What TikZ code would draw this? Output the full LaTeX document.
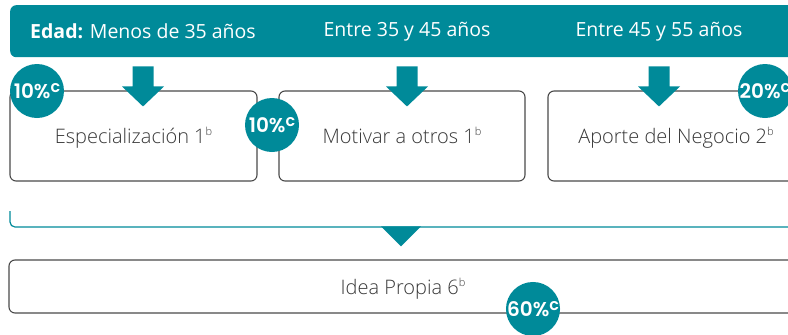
\documentclass[tikz,border=0pt]{standalone}
\usepackage{fontspec}
\usetikzlibrary{calc}
\IfFontExistsTF{Open Sans Light}{\newfontfamily\lightfont{Open Sans Light}}{\newfontfamily\lightfont{Open Sans}}
\newfontfamily\hdrfont{Open Sans}
\IfFontExistsTF{Poppins SemiBold}{\newfontfamily\pctfont{Poppins SemiBold}}{\newfontfamily\pctfont{Poppins}}
\definecolor{tealc}{HTML}{008A99}
\definecolor{textgray}{HTML}{383838}
\definecolor{bordergray}{HTML}{4A4A4A}
\newcommand\boxsup[1]{\raisebox{0.75ex}{\fontsize{11}{11}\selectfont #1}}
\newcommand\pcsup[1]{\raisebox{0.5ex}{\fontsize{16}{16}\selectfont #1}}
\begin{document}
\begin{tikzpicture}[x=1pt,y=-1pt,
  box/.style={draw=bordergray, line width=1.1pt, rounded corners=6pt, minimum height=90pt, inner sep=0pt, text height=15.5pt, text depth=0pt, font=\lightfont\fontsize{20}{24}\selectfont, text=textgray},
  pct/.style={circle, fill=tealc, minimum size=54pt, inner sep=0pt, text=white, font=\pctfont\fontsize{20}{22}\selectfont},
  hdr/.style={text=white, font=\hdrfont\fontsize{19.5}{23}\selectfont, inner sep=0pt},
  bracket/.style={draw=tealc, line width=1.2pt, rounded corners=5pt}]
\useasboundingbox (0,0) rectangle (788,335);
\clip (0,0) rectangle (788,335);
% header bar
\node[fill=tealc, rounded corners=6pt, minimum width=790pt, minimum height=52pt, anchor=north west, inner sep=0pt] (bar) at (10,5) {};
\node[hdr] (h1) at (143,31.5) {\textbf{Edad:} Menos de 35 años};
\node[hdr] (h2) at (407,31.5) {Entre 35 y 45 años};
\node[hdr] (h3) at (659,31.5) {Entre 45 y 55 años};
% boxes
\node[box, minimum width=247pt] (b1) at (133.5,136) {Especialización 1\boxsup{b}};
\node[box, minimum width=246pt] (b2) at (402,136) {Motivar a otros 1\boxsup{b}};
\node[box, minimum width=256pt] (b3) at (676,136) {Aporte del Negocio 2\boxsup{b}};
\node[box, minimum width=788pt, minimum height=53pt] (idea) at (403,286.5) {Idea Propia 6\boxsup{b}};
% block arrows
\foreach \h/\b in {h1/b1,h2/b2,h3/b3}{
  \coordinate (t) at ($(\h |- \b.north)+(0,16)$);
  \fill[tealc] ($(t)+(-10.5,-40)$) -- ($(t)+(10.5,-40)$) -- ($(t)+(10.5,-20)$) -- ($(t)+(21,-20)$) -- (t) -- ($(t)+(-21,-20)$) -- ($(t)+(-10.5,-20)$) -- cycle;
}
% bracket
\coordinate (brL) at (10,211);
\coordinate (brC) at (10,227);
\coordinate (brR) at (800,227);
\draw[bracket] (brL) -- (brC) -- (brR);
\coordinate (tri) at ($(idea.north)+(-2,-13)$);
\fill[tealc] ($(tri)+(-20,-20)$) -- ($(tri)+(20,-20)$) -- (tri) -- cycle;
% percentage circles
\node[pct] (c1) at (37,91) {10\%\pcsup{c}};
\node[pct] (c2) at (272,125) {10\%\pcsup{c}};
\node[pct] (c3) at (765,91) {20\%\pcsup{c}};
\node[pct] (c4) at (533,309) {60\%\pcsup{c}};
\end{tikzpicture}
\end{document}
